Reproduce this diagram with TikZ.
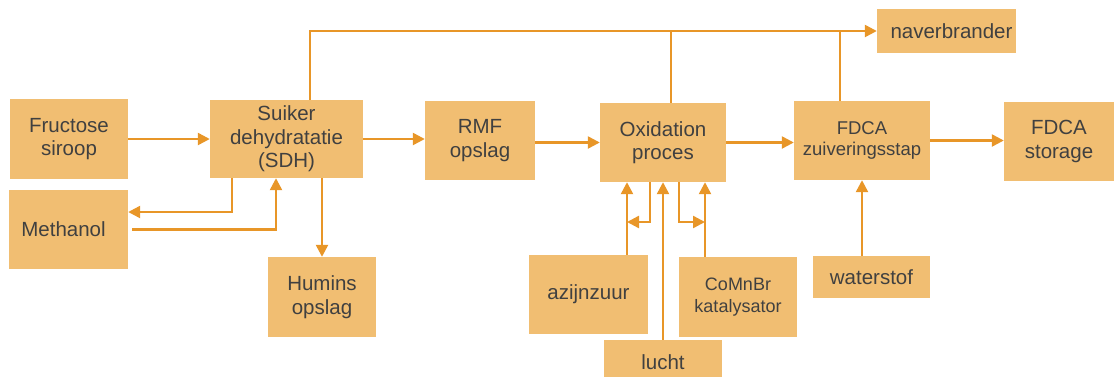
\documentclass[tikz,border=0pt]{standalone}
\usepackage{fontspec}
\setmainfont{Liberation Sans}
\usetikzlibrary{arrows.meta}

\definecolor{boxfill}{RGB}{241,190,114}
\definecolor{flowline}{RGB}{232,150,40}
\definecolor{boxtext}{RGB}{64,64,64}

\begin{document}
\begin{tikzpicture}[x=1pt, y=-1pt,
        unit/.style={fill=boxfill, text=boxtext, align=center, inner sep=0pt,
            font=\fontsize{20.5}{23.5}\selectfont},
        flow/.style={draw=flowline, line width=2.4pt,
            -{Triangle[length=12pt, width=12pt]}},
        pipe/.style={draw=flowline, line width=2.4pt}]
        \useasboundingbox (0, 0) rectangle (1114, 376);

        % units
        \node[unit, minimum width=118pt, minimum height=80pt] (fruc) at (69, 139) {Fructose\\siroop};
        \node[unit, minimum width=153pt, minimum height=78pt] (sdh) at (286.5, 139) {Suiker\\dehydratatie\\(SDH)};
        \node[unit, minimum width=119pt, minimum height=79pt] (meth) at (68.5, 229.5) {Methanol\hspace{10pt}};
        \node[unit, minimum width=108pt, minimum height=80pt] (humins) at (322, 297) {Humins\\opslag};
        \node[unit, minimum width=110pt, minimum height=79pt] (rmf) at (480, 140.5) {RMF\\opslag};
        \node[unit, minimum width=126pt, minimum height=79pt] (oxi) at (663, 142.5) {Oxidation\\proces};
        \node[unit, minimum width=119pt, minimum height=79pt] (azijn) at (588.5, 294.5) {azijnzuur};
        \node[unit, minimum width=118pt, minimum height=44pt] (lucht) at (663, 362) {lucht};
        \node[unit, minimum width=118pt, minimum height=80pt,
            font=\fontsize{18}{21.5}\selectfont] (comnbr) at (738, 297) {CoMnBr\\katalysator};
        \node[unit, minimum width=139pt, minimum height=44pt] (naver) at (946.5, 31) {\hspace{10pt}naverbrander};
        \node[unit, minimum width=136pt, minimum height=79pt,
            font=\fontsize{18.5}{21.5}\selectfont] (fdcaz) at (862, 140.5) {FDCA\\zuiveringsstap};
        \node[unit, minimum width=110pt, minimum height=79pt] (fdcas) at (1059, 141.5) {FDCA\\storage};
        \node[unit, minimum width=117pt, minimum height=42pt] (water) at (871.5, 277) {waterstof};

        \coordinate (aztap) at (627, 222);
        \coordinate (kattap) at (705, 222);

        % main line
        \draw[flow] (fruc) -- (sdh);
        \draw[flow] (sdh.east) -- (sdh.east -| rmf.west);
        \draw[flow] (rmf.east |- oxi.west) -- (oxi.west);
        \draw[flow] (oxi.east) -- (oxi.east -| fdcaz.west);
        \draw[flow] (fdcaz.east) -- (fdcaz.east -| fdcas.west);

        % methanol loop and humins
        \draw[flow] ([xshift=22pt]sdh.south west) |- ([yshift=17.5pt]meth.east);
        \draw[flow] ([xshift=4pt]meth.east) -| ([xshift=-10.5pt]sdh.south);
        \draw[flow] (sdh.south -| humins.north) -- (humins.north);

        % off-gas to naverbrander
        \draw[flow] ([xshift=23.5pt]sdh.north) |- (naver.west);
        \draw[pipe] ([xshift=8pt]oxi.north) -- ([xshift=8pt]oxi.north |- naver.west);
        \draw[pipe] ([xshift=-22pt]fdcaz.north) -- ([xshift=-22pt]fdcaz.north |- naver.west);

        % feeds into oxidation
        \draw[flow] ([xshift=-13pt]oxi.south) |- (aztap);
        \draw[flow] (azijn.north -| aztap) -- (oxi.south -| aztap);
        \draw[flow] (lucht.north) -- (oxi.south -| lucht.north);
        \draw[flow] ([xshift=16pt]oxi.south) |- (kattap);
        \draw[flow] (comnbr.north -| kattap) -- (oxi.south -| kattap);

        % hydrogen
        \draw[flow] (water.north -| fdcaz.south) -- (fdcaz.south);
    \end{tikzpicture}
\end{document}
